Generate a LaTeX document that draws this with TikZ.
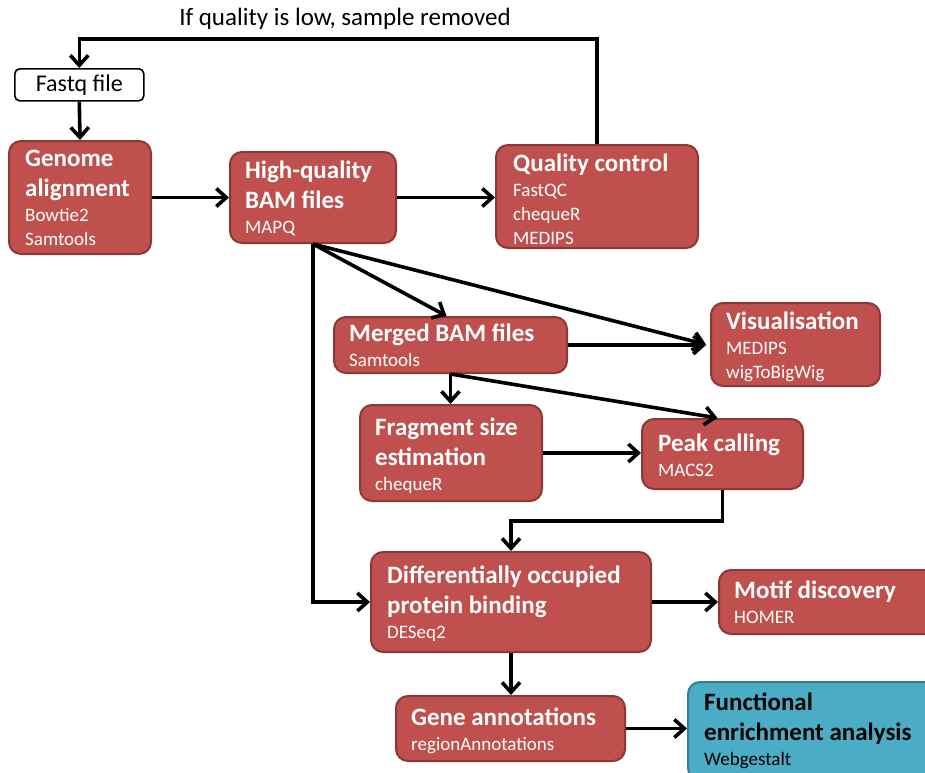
\documentclass[tikz,border=0pt]{standalone}
\usepackage{fontspec}
\setmainfont{Carlito}
\usetikzlibrary{arrows.meta}
\definecolor{boxred}{HTML}{C0504D}
\definecolor{boxredline}{HTML}{8C3836}
\definecolor{boxblue}{HTML}{4BACC6}
\definecolor{boxblueline}{HTML}{357D91}
% title lines of a step
\newcommand{\ttl}[1]{{\fontsize{25}{24}\selectfont\bfseries #1}}
\tikzset{
  stepbase/.style={rounded corners=12pt, line width=2pt, anchor=north west, inner sep=0pt},
  redbox/.style={stepbase, fill=boxred, draw=boxredline},
  bluebox/.style={stepbase, fill=boxblue, draw=boxblueline},
  steptext/.style={anchor=west, align=left, inner sep=0pt, text=white,
    font=\fontsize{19}{24}\selectfont},
  filebox/.style={rounded corners=5pt, line width=1.6pt, draw=black, fill=white,
    anchor=north west, inner sep=0pt, font=\fontsize{24}{24}\selectfont},
  flow/.style={line width=3.6pt, -{Straight Barb[length=10pt,width=18pt]}}
}
\begin{document}
\begin{tikzpicture}[x=1pt,y=-1pt]
\useasboundingbox (0,0) rectangle (925,772);
\clip (0,0) rectangle (925,772);

% input file
\node[filebox, minimum width=129pt, minimum height=32pt] (fastq) at (14,68) {Fastq file};

% processing steps: boxes
\node[redbox, minimum width=142pt, minimum height=113pt] (gen) at (8,140) {};
\node[redbox, minimum width=166pt, minimum height=91pt] (hq) at (229,151) {};
\node[redbox, minimum width=202pt, minimum height=103pt] (qc) at (495,144) {};
\node[redbox, minimum width=233pt, minimum height=56pt] (mer) at (333,316) {};
\node[redbox, minimum width=169pt, minimum height=83pt] (vis) at (710,302) {};
\node[redbox, minimum width=182pt, minimum height=96pt] (frag) at (359,404) {};
\node[redbox, minimum width=161pt, minimum height=70pt] (peak) at (641,418) {};
\node[redbox, minimum width=280pt, minimum height=100pt] (diff) at (370,551) {};
\node[redbox, minimum width=230pt, minimum height=64pt] (motif) at (718,569) {};
\node[redbox, minimum width=229pt, minimum height=65pt] (gene) at (395,695) {};
\node[bluebox, minimum width=260pt, minimum height=98pt] (func) at (687,681) {};

% processing steps: texts
\node[steptext] (gent) at ([xshift=17pt]gen.west)
  {\ttl{Genome}\\[6pt]\ttl{alignment}\\[1pt]Bowtie2\\Samtools};
\node[steptext] (hqt) at ([xshift=16pt,yshift=-1pt]hq.west)
  {\ttl{High-quality}\\[6pt]\ttl{BAM files}\\[1pt]MAPQ};
\node[steptext] (qct) at ([xshift=18pt,yshift=-3pt]qc.west)
  {\ttl{Quality control}\\[1pt]FastQC\\chequeR\\MEDIPS};
\node[steptext] (mert) at ([xshift=16pt]mer.west)
  {\ttl{Merged BAM files}\\[1pt]Samtools};
\node[steptext] (vist) at ([xshift=16pt,yshift=-2pt]vis.west)
  {\ttl{Visualisation}\\[1pt]MEDIPS\\wigToBigWig};
\node[steptext] (fragt) at ([xshift=16pt,yshift=-3pt]frag.west)
  {\ttl{Fragment size}\\[6pt]\ttl{estimation}\\[1pt]chequeR};
\node[steptext] (peakt) at ([xshift=17pt,yshift=-1pt]peak.west)
  {\ttl{Peak calling}\\[1pt]MACS2};
\node[steptext] (difft) at ([xshift=17pt,yshift=-2pt]diff.west)
  {\ttl{Differentially occupied}\\[6pt]\ttl{protein binding}\\[1pt]DESeq2};
\node[steptext] (motift) at ([xshift=16pt]motif.west)
  {\ttl{Motif discovery}\\[1pt]HOMER};
\node[steptext] (genet) at ([xshift=16pt,yshift=-2pt]gene.west)
  {\ttl{Gene annotations}\\[1pt]regionAnnotations};
\node[steptext, text=black] (funct) at ([xshift=17pt]func.west)
  {\ttl{Functional}\\[6pt]\ttl{enrichment analysis}\\[1pt]Webgestalt};

% feedback loop label
\node[font=\fontsize{25}{24}\selectfont, inner sep=0pt] (loopnote) at (345,19)
  {If quality is low, sample removed};

% connectors
\draw[flow] (qc.north) -- ++(0,-105) -| (fastq.north);
\draw[flow] (fastq.south) -- (gen.north);
\draw[flow] (gen.east) -- (hq.west);
\draw[flow] (hq.east) -- (hq.east -| qc.west);
\draw[flow] (hq.south) -- ([xshift=-4pt]mer.north);
\draw[flow] (hq.south) -- ([xshift=-4pt]vis.west);
\draw[flow] (hq.south) |- (diff.west);
\draw[flow] (mer.east) -- ([xshift=-4pt]mer.east -| vis.west);
\draw[flow] (mer.south) -- (mer.south |- frag.north);
\draw[flow] (mer.south) -- ([xshift=-5pt]peak.north);
\draw[flow] (frag.east) -- (frag.east -| peak.west);
\draw[flow] (peak.south) -- ++(0,31) -| (diff.north);
\draw[flow] (diff.east) -- (motif.west);
\draw[flow] (diff.south) -- (diff.south |- gene.north);
\draw[flow] (gene.east) -- (gene.east -| func.west);
\end{tikzpicture}
\end{document}
